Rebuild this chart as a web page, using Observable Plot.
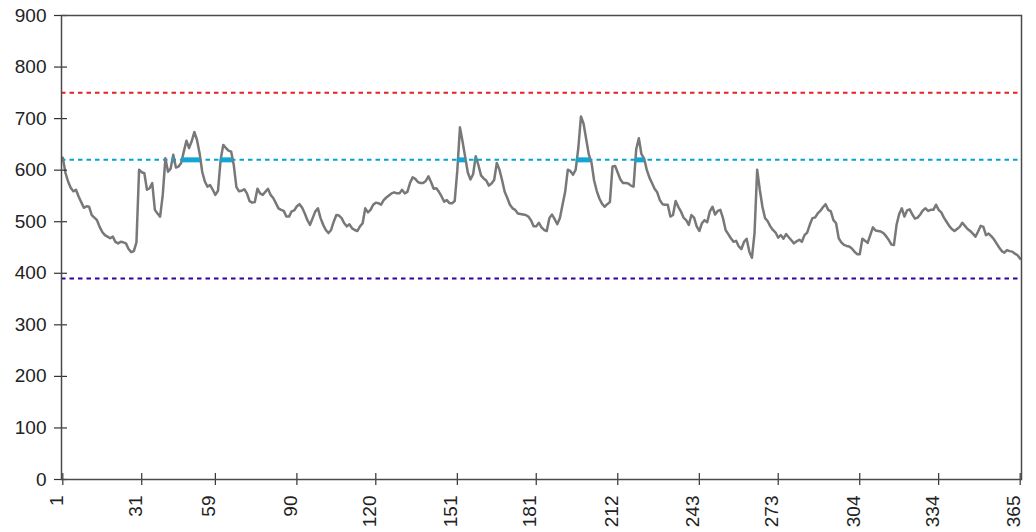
<!DOCTYPE html>
<html><head><meta charset="utf-8">
<script src="https://cdn.jsdelivr.net/npm/d3@7"></script>
<script src="https://cdn.jsdelivr.net/npm/@observablehq/plot@0.6"></script>
<style>body{margin:0;background:#fff} svg{display:block}</style>
</head><body><div id="chart"></div>
<script>
// Daily values (day of year, value)
const days = [];
for (let d = 1; d <= 365; d++) days.push(d);
const values = [
624,595,578,566,559,562,549,538,527,530,529,513,508,503,490,480,474,471,468,471,
461,458,461,460,458,447,441,443,460,601,596,594,562,565,575,523,516,510,552,623,
597,603,630,605,607,614,636,657,643,656,674,659,633,597,578,568,571,562,552,560,
620,649,643,638,636,610,567,559,560,563,555,540,537,538,564,555,552,558,564,552,
546,536,526,523,521,510,510,520,522,530,534,527,516,503,494,507,520,526,507,494,
484,478,484,500,513,512,507,497,491,495,487,484,482,491,497,526,518,523,533,537,
536,533,542,547,551,555,557,555,555,562,555,558,575,586,583,577,575,575,579,588,
577,564,565,558,549,539,542,536,536,540,600,683,655,625,595,582,592,627,610,590,
584,580,570,574,581,614,601,581,558,546,533,526,523,516,515,514,513,510,503,491,
491,498,489,484,482,507,514,505,495,507,533,558,601,598,591,601,643,704,690,660,
630,615,580,560,545,535,529,534,538,607,608,595,582,575,575,574,570,568,640,662,
631,623,601,586,575,564,557,542,534,533,533,510,513,540,529,520,508,503,494,513,
508,491,482,497,503,499,520,529,514,521,523,507,484,476,468,461,463,452,447,461,
467,442,430,478,601,562,529,507,501,491,484,479,469,474,467,476,470,464,458,462,
465,461,474,479,494,507,508,516,521,528,534,523,520,503,497,468,460,455,453,452,
448,442,437,437,467,463,459,474,489,483,482,481,478,472,465,456,455,494,515,526,
510,522,524,514,506,508,514,522,526,521,523,523,533,523,518,508,500,492,486,482,
486,490,498,492,486,482,477,471,481,492,490,474,477,472,466,458,450,443,440,445,
443,442,438,435,428
];
// Reference levels
const refLevels = [750, 620, 390];
const refColors = ["#ee1c25", "#00a3d4", "#330099"];
const exceedLevel = 620;
// Axis ticks
const yTicks = [0,100,200,300,400,500,600,700,800,900];
const xTicks = [1,31,59,90,120,151,181,212,243,273,304,334,365];

const data = days.map((d, i) => ({day: d, value: values[i]}));

// portions of the series above the exceedance level, merged into runs
const segs = [];
for (let i = 0; i < data.length - 1; i++) {
  const a = data[i], b = data[i + 1];
  if (a.value <= exceedLevel && b.value <= exceedLevel) continue;
  const cross = a.day + (exceedLevel - a.value) / (b.value - a.value) * (b.day - a.day);
  const s = {x1: a.value > exceedLevel ? a.day : cross, x2: b.value > exceedLevel ? b.day : cross};
  const last = segs[segs.length - 1];
  if (last && last.x2 === s.x1) last.x2 = s.x2; else segs.push(s);
}

const chart = Plot.plot({
  width: 1036, height: 532,
  marginLeft: 61, marginRight: 15, marginTop: 15, marginBottom: 53,
  x: {domain: [0.5, 365.5], axis: null},
  y: {domain: [0, 900], axis: null},
  style: {fontFamily: "'Liberation Sans', Arial, sans-serif", fontSize: "19px", background: "#fff", color: "#222"},
  marks: [
    ...refLevels.map((lv, i) => Plot.ruleY([lv], {stroke: refColors[i], strokeWidth: 2, strokeDasharray: "4.5,4"})),
    Plot.line(data, {x: "day", y: "value", stroke: "#787878", strokeWidth: 2.5}),
    Plot.ruleY(segs, {x1: "x1", x2: "x2", y: () => exceedLevel, stroke: "#14a5d3", strokeWidth: 5}),
    Plot.tickY(yTicks, {y: d => d, insetRight: 947, dx: -7, stroke: "#333", strokeWidth: 1.2}),
    Plot.tickX(xTicks, {x: d => d, insetTop: 452, dy: 6, stroke: "#333", strokeWidth: 1.2}),
    Plot.frame({stroke: "#4a4a4a", strokeWidth: 1.5}),
    Plot.text(yTicks, {y: d => d, text: d => String(d), frameAnchor: "left", textAnchor: "end", dx: -15, fill: "#222"}),
    Plot.text(xTicks, {x: d => d, text: d => String(d), frameAnchor: "bottom", rotate: -90, textAnchor: "end", dy: 16, fill: "#222"})
  ]
});
document.getElementById("chart").appendChild(chart);
</script>
</body></html>
